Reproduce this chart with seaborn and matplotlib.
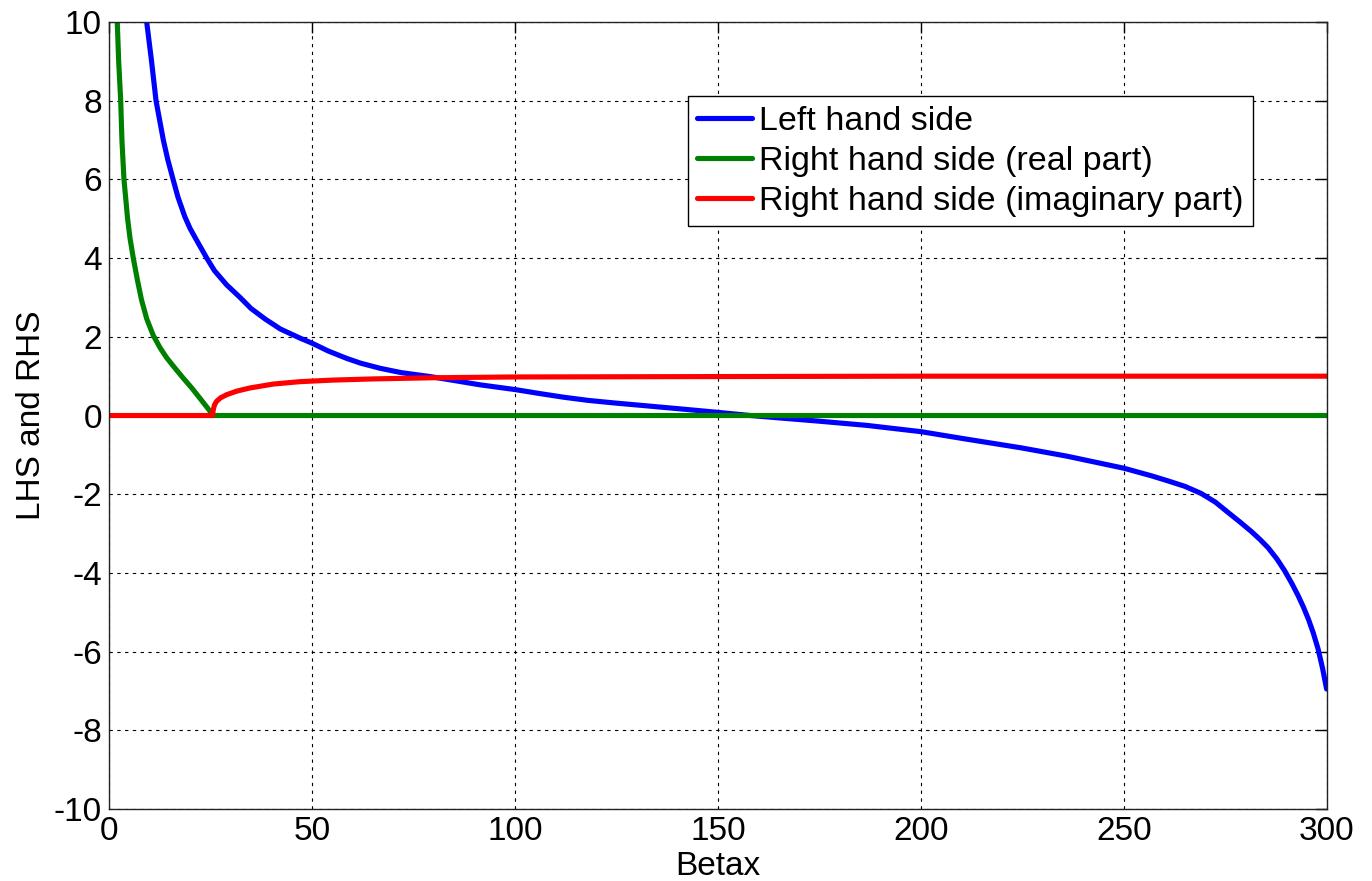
import numpy as np
import pandas as pd
import matplotlib
matplotlib.use("Agg")
import matplotlib.pyplot as plt
import seaborn as sns

# values
lhs_x = [9.3, 10.5, 11.6, 12.5, 13.4, 14.5, 15.8, 17.0, 18.7, 20.0, 22.0, 24.1,
         26.0, 29.0, 32.3, 35.0, 38.5, 42.2, 47.0, 50.0, 54.0, 58.6, 62.0,
         66.8, 72.0, 79.1, 85.0, 91.4, 100.0, 106.0, 112.0, 118.0, 124.4,
         132.0, 140.6, 150.0, 158.0, 165.0, 174.5, 186.6, 200.0, 211.2, 224.6,
         235.8, 250.0, 256.7, 260.8, 265.0, 269.0, 272.5, 275.6, 278.5, 281.4,
         283.5, 285.5, 287.7, 289.6, 291.3, 292.9, 294.2, 295.4, 296.6, 297.8,
         298.9, 299.9]
lhs_y = [10.0, 9.0, 8.0, 7.5, 7.0, 6.5, 6.0, 5.55, 5.05, 4.75, 4.38, 4.0,
         3.68, 3.32, 3.0, 2.72, 2.45, 2.2, 1.97, 1.84, 1.64, 1.45, 1.33,
         1.2, 1.09, 0.99, 0.89, 0.78, 0.66, 0.56, 0.465, 0.385, 0.32,
         0.25, 0.17, 0.08, 0.0, -0.06, -0.14, -0.25, -0.41, -0.6, -0.82,
         -1.03, -1.34, -1.53, -1.66, -1.8, -1.98, -2.2, -2.46, -2.70, -2.95,
         -3.15, -3.36, -3.65, -3.95, -4.26, -4.58, -4.87, -5.17, -5.52, -5.93,
         -6.42, -6.95]

rhs_re_x = [2.05, 2.4, 2.9, 3.2, 3.7, 4.6, 5.2, 6.0, 7.0, 8.0, 9.3, 10.9, 12.6,
            14.2, 16.3, 18.3, 20.4, 22.4, 24.9, 25.3, 300.0]
rhs_re_y = [10.0, 9.0, 8.0, 7.0, 6.0, 5.0, 4.5, 4.0, 3.45, 2.95, 2.46, 2.04,
            1.72, 1.47, 1.2, 0.95, 0.7, 0.44, 0.11, 0.0, 0.0]

rhs_im_x = [0.0, 25.5, 25.7, 26.0, 26.5, 27.5, 29.0, 31.5, 34.7, 40.5, 47.0,
            55.0, 65.0, 80.0, 100.0, 150.0, 200.0, 300.0]
rhs_im_y = [0.0, 0.0, 0.15, 0.27, 0.36, 0.45, 0.53, 0.62, 0.70, 0.80, 0.86,
            0.90, 0.93, 0.96, 0.98, 0.99, 1.0, 1.0]

x_ticks = [0, 50, 100, 150, 200, 250, 300]
y_ticks = [-10, -8, -6, -4, -2, 0, 2, 4, 6, 8, 10]

sns.set_style("white")
plt.rcParams['font.family'] = ['Liberation Sans', 'DejaVu Sans']
plt.rcParams['axes.unicode_minus'] = False
plt.rcParams['text.color'] = 'black'
plt.rcParams['axes.labelcolor'] = 'black'

fig = plt.figure(figsize=(13.72, 8.81), dpi=100)
ax = fig.add_axes([0.0794, 0.0817, 0.8878, 0.8933])

lhs = pd.DataFrame({'x': lhs_x, 'y': lhs_y})
rre = pd.DataFrame({'x': rhs_re_x, 'y': rhs_re_y})
rim = pd.DataFrame({'x': rhs_im_x, 'y': rhs_im_y})

sns.lineplot(data=lhs, x='x', y='y', color='#0000ff', lw=3.7,
             estimator=None, sort=False, label='Left hand side', ax=ax)
sns.lineplot(data=rre, x='x', y='y', color='#008000', lw=3.7,
             estimator=None, sort=False, label='Right hand side (real part)', ax=ax)
sns.lineplot(data=rim, x='x', y='y', color='#ff0000', lw=3.7,
             estimator=None, sort=False, label='Right hand side (imaginary part)', ax=ax)

ax.set_xlim(0, 300)
ax.set_ylim(-10, 10)
ax.set_xticks(x_ticks)
ax.set_yticks(y_ticks)
ax.grid(True, color='black', linestyle=(0, (3, 4)), linewidth=0.8)
ax.tick_params(direction='in', length=8, width=1, top=True, right=True,
               labelsize=24, colors='black', pad=5)
for s in ax.spines.values():
    s.set_visible(True)
    s.set_color('#222222')
    s.set_linewidth(1)

ax.set_xlabel('Betax', fontsize=24, labelpad=3)
ax.set_ylabel('LHS and RHS', fontsize=24, labelpad=5)

leg = ax.legend(loc='upper right', bbox_to_anchor=(0.939, 0.906), fontsize=24.5,
                frameon=True, fancybox=False, framealpha=1, edgecolor='black',
                handlelength=1.6, handletextpad=0.2, borderpad=0.28,
                labelspacing=0.27, borderaxespad=0)
leg.get_frame().set_linewidth(1)

fig.savefig('out.png', dpi=100)
